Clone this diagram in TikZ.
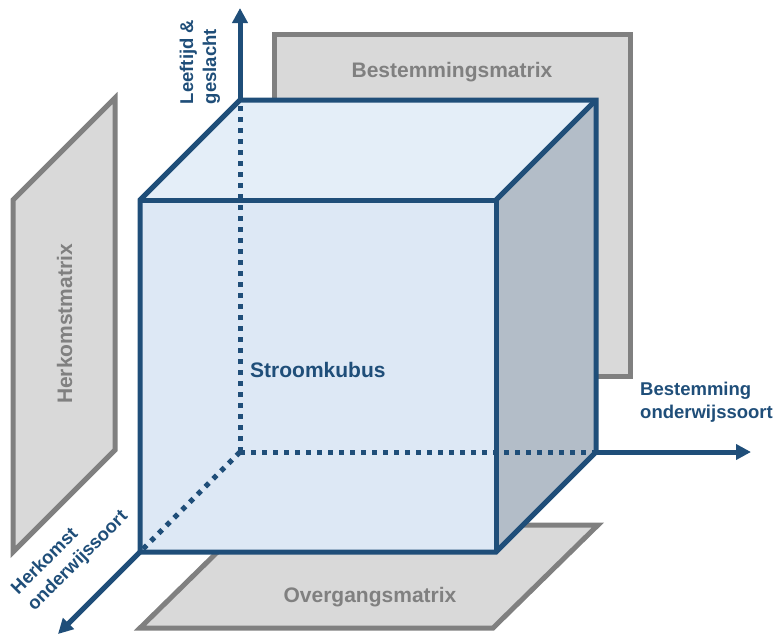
\documentclass[tikz,border=0pt]{standalone}
\usepackage{fontspec}
\setmainfont{Liberation Sans}
\usetikzlibrary{arrows.meta}

\definecolor{kubusblauw}{RGB}{31,78,121}
\definecolor{voorvlak}{RGB}{221,232,245}
\definecolor{bovenvlak}{RGB}{228,238,248}
\definecolor{zijvlak}{RGB}{179,189,200}
\definecolor{matrixgrijs}{RGB}{217,217,217}
\definecolor{randgrijs}{RGB}{128,128,128}

\tikzset{
  matrixvlak/.style={draw=randgrijs, fill=matrixgrijs, line width=5pt},
  matrixtekst/.style={text=randgrijs, font=\fontsize{21}{25}\selectfont\bfseries, inner sep=0pt},
  kubusrand/.style={draw=kubusblauw, line width=5pt, line join=miter},
  verborgen/.style={draw=kubusblauw, line width=5pt, dash pattern=on 5pt off 6pt},
  aspijl/.style={draw=kubusblauw, line width=5pt, -{Triangle[length=15pt,width=15pt]}},
  aslabel/.style={text=kubusblauw, font=\fontsize{18.5}{23}\selectfont\bfseries, align=left, inner sep=0pt}
}

\begin{document}
\begin{tikzpicture}[x=1pt,y=-1pt]
\useasboundingbox (0,0) rectangle (774,633);

% hoekpunten kubus
\coordinate (O) at (240,452);
\coordinate (VLB) at (140,200);
\coordinate (VRB) at (496,200);
\coordinate (VRO) at (496,552);
\coordinate (VLO) at (140,552);
\coordinate (ALB) at (240,100);
\coordinate (ARB) at (596,100);
\coordinate (ARO) at (596,452);
\coordinate (Ytop) at (240,8);
\coordinate (Xend) at (751,452);
\coordinate (Zend) at (58,634);

\begin{scope}[every node/.style=matrixtekst]
    \draw[matrixvlak] (274,34) rectangle (630,376);
    \node (bestm) at (452,72) {Bestemmingsmatrix};
    \draw[matrixvlak] (13,200) -- (115,98) -- (115,450) -- (13,552) -- cycle;
    \node[rotate=90] (herkm) at (64.5,324) {Herkomstmatrix};
    \draw[matrixvlak] (140,628) -- (493,628) -- (598,525) -- (245,525) -- cycle;
    \node (overgm) at (370,597) {Overgangsmatrix};
\end{scope}

\fill[bovenvlak] (VLB) -- (ALB) -- (ARB) -- (VRB) -- cycle;
\fill[zijvlak] (VRB) -- (ARB) -- (ARO) -- (VRO) -- cycle;
\fill[voorvlak] (VLB) rectangle (VRO);
\draw[kubusrand] (VLB) -- (ALB) -- (ARB) -- (ARO) -- (VRO) -- (VLO) -- cycle;
\draw[kubusrand] (VLB) -- (VRB) -- (VRO);
\draw[kubusrand] (VRB) -- (ARB);

\draw[verborgen] (O) -- (ALB);
\draw[verborgen] (O) -- (ARO);
\draw[verborgen] (O) -- (VLO);

\draw[aspijl] (ALB) -- (Ytop);
\draw[aspijl] (ARO) -- (Xend);
\draw[aspijl] (VLO) -- (Zend);

\node[text=kubusblauw, font=\fontsize{21}{25}\selectfont\bfseries, inner sep=0pt, anchor=west] (kubus) at (250,370) {Stroomkubus};
\node[aslabel, rotate=90] (leeftijd) at (200,62) {Leeftijd \&\\geslacht};
\node[aslabel, anchor=west] (bestond) at (640,402) {Bestemming\\onderwijssoort};
\node[aslabel, rotate=45] (herkond) at (70,553) {Herkomst\\onderwijssoort};
\end{tikzpicture}
\end{document}
